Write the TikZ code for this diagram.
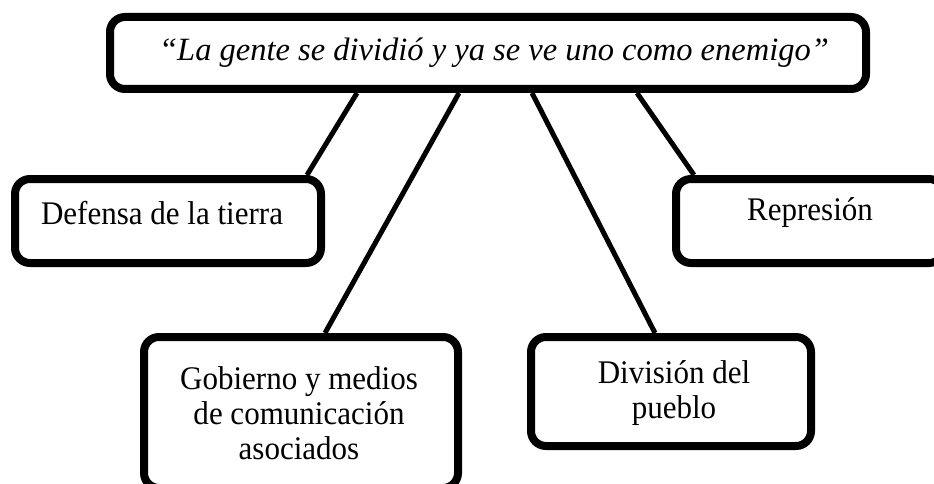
\documentclass[tikz,border=0pt]{standalone}
\usepackage{fontspec}
\setmainfont{Liberation Serif}
\newcommand\sqz[1]{\scalebox{0.94}[1]{#1}}
\begin{document}
\begin{tikzpicture}[x=1pt,y=-1pt,
  box/.style={draw=black,line width=8pt,rounded corners=15pt,fill=white,inner sep=0pt},
  txt/.style={font=\fontsize{33}{35}\selectfont,align=center,inner sep=0pt},
  link/.style={draw=black,line width=5pt}]
\clip (0,0) rectangle (934,484);
\fill[white] (0,0) rectangle (934,484);
% boxes
\node[box,minimum width=756pt,minimum height=72pt] (top) at (488,53) {};
\node[box,minimum width=306pt,minimum height=84pt] (def) at (168,221) {};
\node[box,minimum width=268pt,minimum height=84pt] (rep) at (810,221) {};
\node[box,minimum width=314pt,minimum height=151pt] (gob) at (301,412.5) {};
\node[box,minimum width=280pt,minimum height=109pt] (div) at (671,391.5) {};
% texts
\node[txt,font=\fontsize{32.5}{35}\selectfont] (ttop) at (494,53) {\itshape “La gente se dividió y ya se ve uno como enemigo”};
\node[txt] (tdef) at (162,213) {\sqz{Defensa de la tierra}};
\node[txt] (trep) at (810,213) {\sqz{Represión}};
\node[txt] (tgob) at (299,413) {\sqz{Gobierno y medios}\\\sqz{de comunicación}\\\sqz{asociados}};
\node[txt] (tdiv) at (674,393) {\sqz{División del}\\\sqz{pueblo}};
% connectors
\draw[link] ([xshift=-131pt]top.south) -- ([xshift=139pt]def.north);
\draw[link] ([xshift=-29pt]top.south) -- ([xshift=24pt]gob.north);
\draw[link] ([xshift=44pt]top.south) -- ([xshift=-16pt]div.north);
\draw[link] ([xshift=149pt]top.south) -- ([xshift=-116pt]rep.north);
\end{tikzpicture}
\end{document}
